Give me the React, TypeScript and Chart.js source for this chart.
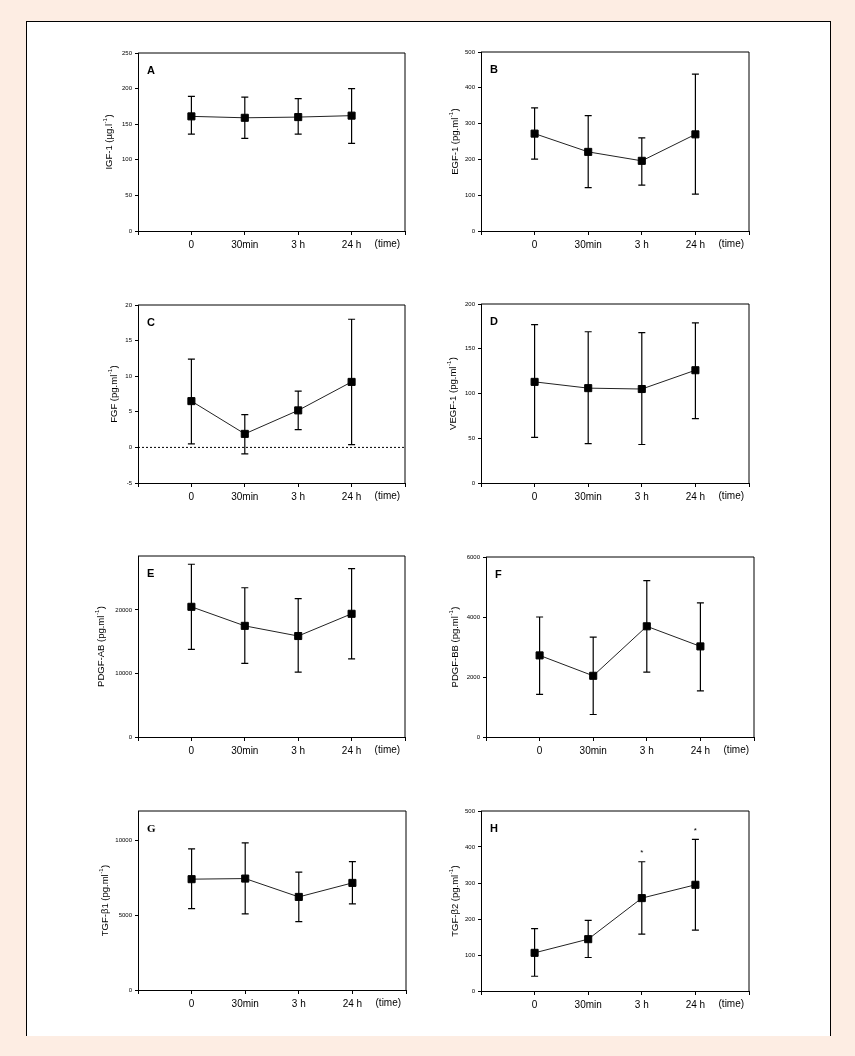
import React, { useEffect, useRef } from "react";
import { Chart, registerables } from "chart.js";

Chart.register(...registerables);

// ---------- data ----------
const categories = ["0", "30min", "3 h", "24 h"];
const timeLabel = "(time)";

const igfMean = [161, 159, 160, 162];
const igfLow = [136, 130, 136, 123];
const igfHigh = [189, 188, 186, 200];
const igfTicks = [0, 50, 100, 150, 200, 250];

const egfMean = [272, 221, 196, 270];
const egfLow = [201, 121, 128, 103];
const egfHigh = [344, 322, 260, 438];
const egfTicks = [0, 100, 200, 300, 400, 500];

const fgfMean = [6.5, 1.9, 5.2, 9.2];
const fgfLow = [0.5, -0.9, 2.5, 0.4];
const fgfHigh = [12.4, 4.6, 7.9, 18];
const fgfTicks = [-5, 0, 5, 10, 15, 20];

const vegfMean = [113, 106, 105, 126];
const vegfLow = [51, 44, 43, 72];
const vegfHigh = [177, 169, 168, 179];
const vegfTicks = [0, 50, 100, 150, 200];

const pdgfabMean = [20500, 17500, 15900, 19400];
const pdgfabLow = [13800, 11600, 10200, 12300];
const pdgfabHigh = [27200, 23500, 21800, 26500];
const pdgfabTicks = [0, 10000, 20000];

const pdgfbbMean = [2720, 2040, 3690, 3020];
const pdgfbbLow = [1420, 750, 2160, 1540];
const pdgfbbHigh = [4000, 3330, 5210, 4470];
const pdgfbbTicks = [0, 2000, 4000, 6000];

const tgfb1Mean = [7430, 7470, 6240, 7180];
const tgfb1Low = [5460, 5110, 4590, 5780];
const tgfb1High = [9460, 9860, 7900, 8610];
const tgfb1Ticks = [0, 5000, 10000];

const tgfb2Mean = [106, 144, 258, 295];
const tgfb2Low = [41, 93, 158, 169];
const tgfb2High = [173, 196, 359, 421];
const tgfb2Ticks = [0, 100, 200, 300, 400, 500];
const tgfb2Stars = [false, false, true, true];

// ---------- layout ----------
const PADL = 50;
const PADT = 10;
const PADR = 12;
const PADB = 28;
const FONT = "'Liberation Sans', Arial, sans-serif";

type Panel = {
  letter: string;
  letterFont?: string;
  title: [string, string, string];
  mean: number[];
  low: number[];
  high: number[];
  yMin: number;
  yMax: number;
  yTicks: number[];
  area: { l: number; t: number; r: number; b: number };
  titleOff: number;
  zeroLine?: boolean;
  stars?: boolean[];
};

const panels: Panel[] = [
  { letter: "A", title: ["IGF-1 (\u00b5g.l", "-1", ")"], mean: igfMean, low: igfLow, high: igfHigh, yMin: 0, yMax: 250, yTicks: igfTicks, area: { l: 138, t: 53, r: 405, b: 231 }, titleOff: 29 },
  { letter: "B", title: ["EGF-1 (pg.ml", "-1", ")"], mean: egfMean, low: egfLow, high: egfHigh, yMin: 0, yMax: 500, yTicks: egfTicks, area: { l: 481, t: 52, r: 749, b: 231 }, titleOff: 26 },
  { letter: "C", title: ["FGF (pg.ml", "-1", ")"], mean: fgfMean, low: fgfLow, high: fgfHigh, yMin: -5, yMax: 20, yTicks: fgfTicks, area: { l: 138, t: 305, r: 405, b: 483 }, titleOff: 24, zeroLine: true },
  { letter: "D", title: ["VEGF-1 (pg.ml", "-1", ")"], mean: vegfMean, low: vegfLow, high: vegfHigh, yMin: 0, yMax: 200, yTicks: vegfTicks, area: { l: 481, t: 304, r: 749, b: 483 }, titleOff: 28 },
  { letter: "E", title: ["PDGF-AB (pg.ml", "-1", ")"], mean: pdgfabMean, low: pdgfabLow, high: pdgfabHigh, yMin: 0, yMax: 28500, yTicks: pdgfabTicks, area: { l: 138, t: 556, r: 405, b: 737 }, titleOff: 37 },
  { letter: "F", title: ["PDGF-BB (pg.ml", "-1", ")"], mean: pdgfbbMean, low: pdgfbbLow, high: pdgfbbHigh, yMin: 0, yMax: 6000, yTicks: pdgfbbTicks, area: { l: 486, t: 557, r: 754, b: 737 }, titleOff: 31 },
  { letter: "G", letterFont: "bold 11px 'Liberation Serif', serif", title: ["TGF-\u03b21 (pg.ml", "-1", ")"], mean: tgfb1Mean, low: tgfb1Low, high: tgfb1High, yMin: 0, yMax: 12000, yTicks: tgfb1Ticks, area: { l: 138, t: 811, r: 406, b: 990 }, titleOff: 33 },
  { letter: "H", title: ["TGF-\u03b22 (pg.ml", "-1", ")"], mean: tgfb2Mean, low: tgfb2Low, high: tgfb2High, yMin: 0, yMax: 500, yTicks: tgfb2Ticks, area: { l: 481, t: 811, r: 749, b: 991 }, titleOff: 26, stars: tgfb2Stars },
];

function PanelChart({ p }: { p: Panel }) {
  const ref = useRef<HTMLCanvasElement | null>(null);
  const w = p.area.r - p.area.l + PADL + PADR;
  const h = p.area.b - p.area.t + PADT + PADB;

  useEffect(() => {
    if (!ref.current) return;
    const deco = {
      id: "deco" + p.letter,
      beforeDatasetsDraw(chart: any) {
        const ctx = chart.ctx;
        const xs = chart.scales.x;
        const ys = chart.scales.y;
        const ca = chart.chartArea;
        ctx.save();
        if (p.zeroLine) {
          const y0 = ys.getPixelForValue(0);
          ctx.strokeStyle = "#000";
          ctx.lineWidth = 1;
          ctx.setLineDash([2, 2]);
          ctx.beginPath();
          ctx.moveTo(ca.left, y0);
          ctx.lineTo(ca.right, y0);
          ctx.stroke();
          ctx.setLineDash([]);
        }
        ctx.strokeStyle = "#000";
        ctx.lineWidth = 1.2;
        for (let i = 0; i < p.mean.length; i++) {
          const x = xs.getPixelForValue(i);
          const yl = ys.getPixelForValue(p.low[i]);
          const yh = ys.getPixelForValue(p.high[i]);
          ctx.beginPath();
          ctx.moveTo(x, yh);
          ctx.lineTo(x, yl);
          ctx.moveTo(x - 3.5, yh);
          ctx.lineTo(x + 3.5, yh);
          ctx.moveTo(x - 3.5, yl);
          ctx.lineTo(x + 3.5, yl);
          ctx.stroke();
        }
        ctx.restore();
      },
      afterDraw(chart: any) {
        const ctx = chart.ctx;
        const xs = chart.scales.x;
        const ys = chart.scales.y;
        const ca = chart.chartArea;
        ctx.save();
        // frame top and right
        ctx.strokeStyle = "#000";
        ctx.lineWidth = 1;
        ctx.beginPath();
        ctx.moveTo(ca.left, ca.top);
        ctx.lineTo(ca.right, ca.top);
        ctx.lineTo(ca.right, ca.bottom);
        ctx.stroke();
        // panel letter
        ctx.fillStyle = "#000";
        ctx.font = p.letterFont || `bold 11px ${FONT}`;
        ctx.textAlign = "left";
        ctx.textBaseline = "middle";
        ctx.fillText(p.letter, ca.left + 9, ca.top + 18);
        // time label
        ctx.font = `10px ${FONT}`;
        ctx.textAlign = "center";
        ctx.textBaseline = "top";
        ctx.fillText(timeLabel, xs.getPixelForValue(3.67), ca.bottom + 8);
        // stars
        if (p.stars) {
          ctx.font = `8px ${FONT}`;
          ctx.textBaseline = "bottom";
          p.stars.forEach((s, i) => {
            if (s) ctx.fillText("*", xs.getPixelForValue(i), ys.getPixelForValue(p.high[i]) - 5);
          });
        }
        // y title with superscript
        const cx = ca.left - p.titleOff;
        const cy = (ca.top + ca.bottom) / 2;
        ctx.translate(cx, cy);
        ctx.rotate(-Math.PI / 2);
        const mainF = `9.5px ${FONT}`;
        const supF = `6px ${FONT}`;
        ctx.font = mainF;
        const w1 = ctx.measureText(p.title[0]).width;
        const w3 = ctx.measureText(p.title[2]).width;
        ctx.font = supF;
        const w2 = ctx.measureText(p.title[1]).width + 1;
        let sx = -(w1 + w2 + w3) / 2;
        ctx.textAlign = "left";
        ctx.textBaseline = "middle";
        ctx.font = mainF;
        ctx.fillText(p.title[0], sx, 0);
        sx += w1;
        ctx.font = supF;
        ctx.fillText(p.title[1], sx + 0.5, -4);
        sx += w2;
        ctx.font = mainF;
        ctx.fillText(p.title[2], sx, 0);
        ctx.restore();
      },
    };

    const chart = new Chart(ref.current, {
      type: "line",
      data: {
        datasets: [
          {
            data: p.mean.map((v, i) => ({ x: i, y: v })),
            borderColor: "#222",
            borderWidth: 1,
            pointStyle: "rect",
            pointRadius: 5,
            pointBackgroundColor: "#000",
            pointBorderColor: "#000",
            pointBorderWidth: 1,
            tension: 0,
          },
        ],
      },
      options: {
        animation: false,
        responsive: false,
        devicePixelRatio: 1,
        layout: { padding: { left: 0, top: PADT, right: PADR, bottom: 0 } },
        plugins: { legend: { display: false }, tooltip: { enabled: false } },
        scales: {
          x: {
            type: "linear",
            min: -1,
            max: 4,
            afterBuildTicks: (s: any) => {
              s.ticks = [-1, 0, 1, 2, 3, 4].map((v) => ({ value: v }));
            },
            afterFit: (s: any) => {
              s.height = PADB;
            },
            ticks: {
              callback: (v: any) => categories[v as number] ?? "",
              font: { size: 10, family: FONT },
              color: "#000",
              padding: 4,
              maxRotation: 0,
              autoSkip: false,
            },
            grid: { display: true, drawOnChartArea: false, drawTicks: true, tickLength: 4, color: "#000", lineWidth: 1 },
            border: { display: true, color: "#000", width: 1 },
          },
          y: {
            type: "linear",
            min: p.yMin,
            max: p.yMax,
            afterBuildTicks: (s: any) => {
              s.ticks = p.yTicks.map((v) => ({ value: v }));
            },
            afterFit: (s: any) => {
              s.width = PADL;
            },
            ticks: {
              callback: (v: any) => String(v),
              font: { size: 6, family: FONT },
              color: "#000",
              padding: 3,
            },
            grid: { display: true, drawOnChartArea: false, drawTicks: true, tickLength: 3, color: "#000", lineWidth: 1 },
            border: { display: true, color: "#000", width: 1 },
          },
        },
      } as any,
      plugins: [deco],
    });
    return () => chart.destroy();
  }, [p]);

  return (
    <canvas
      ref={ref}
      width={w}
      height={h}
      style={{ position: "absolute", left: p.area.l - PADL, top: p.area.t - PADT, width: w, height: h }}
    />
  );
}

export default function App() {
  useEffect(() => {
    document.body.style.margin = "0";
    document.body.style.background = "#FDEDE3";
  }, []);
  return (
    <div style={{ position: "absolute", left: 0, top: 0, width: 855, height: 1056, background: "#FDEDE3", overflow: "hidden" }}>
      <div
        style={{
          position: "absolute",
          left: 26,
          top: 21,
          width: 803,
          height: 1014,
          background: "#fff",
          borderLeft: "1px solid #000",
          borderTop: "1px solid #000",
          borderRight: "1px solid #000",
        }}
      />
      {panels.map((p) => (
        <PanelChart key={p.letter} p={p} />
      ))}
    </div>
  );
}
